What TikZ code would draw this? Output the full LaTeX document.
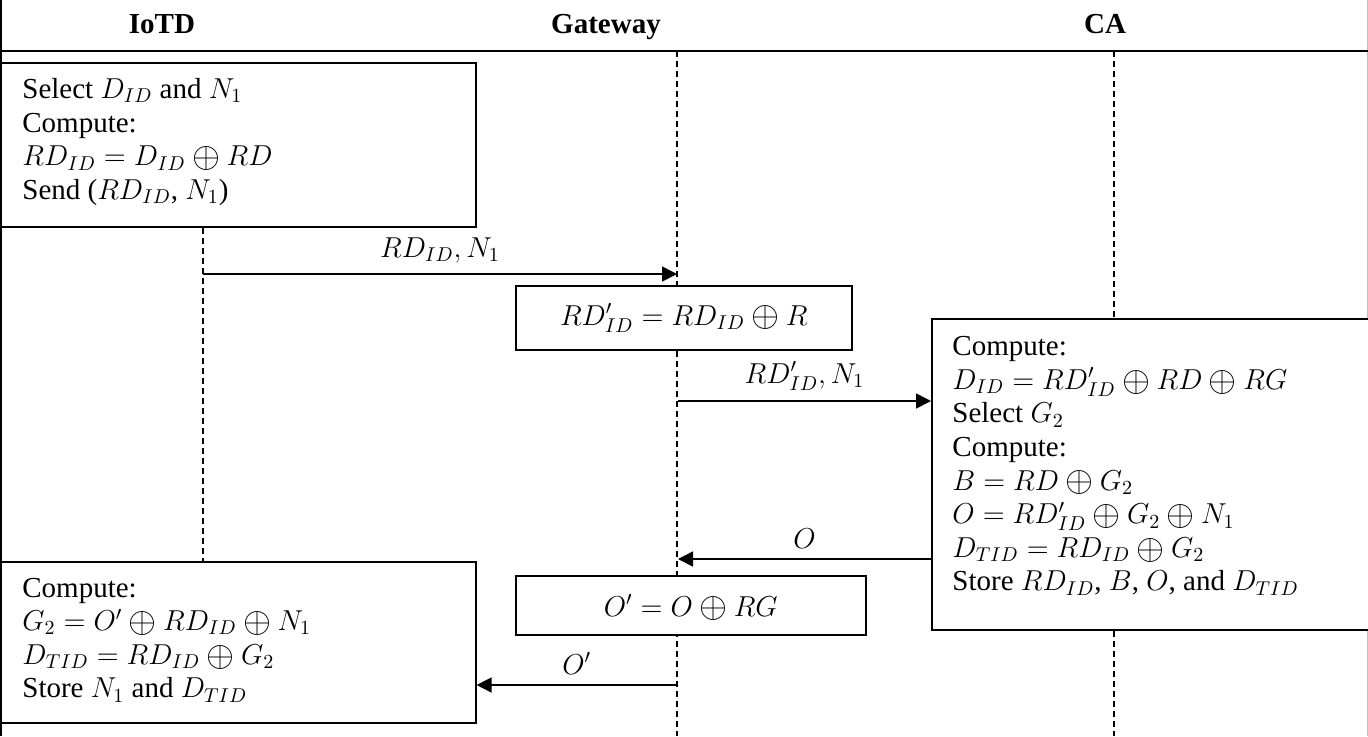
\documentclass[tikz,border=0pt]{standalone}
\usepackage{fontspec}
\usepackage{graphicx}
\setmainfont{Liberation Serif}
\usetikzlibrary{arrows.meta,calc}
\newcommand{\xr}{\mathbin{\smash{\vcenter{\hbox{\scalebox{1.25}{$\oplus$}}}}}}
\begin{document}
\begin{tikzpicture}[x=0.5pt,y=-0.5pt,
  box/.style={draw, line width=0.8pt, fill=white, inner sep=0pt},
  bigfont/.style={font=\fontsize{14.5}{16.8}\selectfont},
  txt/.style={bigfont, align=left, inner sep=0pt},
  hdr/.style={font=\fontsize{14.5}{17}\selectfont\bfseries, inner sep=0pt, anchor=base},
  life/.style={dash pattern=on 3pt off 2pt, line width=0.6pt},
  msg/.style={line width=0.8pt, -{Triangle[length=7.5pt,width=7.5pt]}},
  lbl/.style={bigfont, inner sep=0pt, above=5pt}
]
\useasboundingbox (0,0) rectangle (1368,736);

% frame and header
\draw[line width=0.8pt] (1,0) -- (1,736);
\draw[black!25, line width=0.5pt] (1367,0) -- (1367,736);
\draw[line width=1.2pt] (0,51) -- (1368,51);
\node[hdr] (hI) at (162,33) {IoTD};
\node[hdr] (hG) at (606,33) {Gateway};
\node[hdr] (hC) at (1105,33) {CA};

% lifeline coordinates
\coordinate (xI) at (203,0);
\coordinate (gtop) at (677,51);
\coordinate (gbot) at (677,736);
\coordinate (ctop) at (1114,51);
\coordinate (cbot) at (1114,736);

% gateway lifeline (behind boxes)
\draw[life] (gtop) -- (gbot);

% boxes
\node[box, anchor=north west, minimum width=237.5pt, minimum height=82pt] (b1) at (0,62) {};
\node[txt, anchor=west] (t1) at (22,142) {Select $D_{ID}$ and $N_1$\\
Compute:\\
$RD_{ID} = D_{ID}\xr RD$\\
Send ($RD_{ID}$, $N_1$)};

\node[box, bigfont, anchor=north west, minimum width=168pt, minimum height=32pt] (b2) at (515,285) {$RD'_{ID} = RD_{ID}\xr R$};

\node[box, anchor=north west, minimum width=218.5pt, minimum height=155.5pt] (ca) at (931,318) {};
\node[txt, anchor=west] (tca) at (952,466) {Compute:\\
$D_{ID} = RD'_{ID}\xr RD\xr RG$\\
Select $G_2$\\
Compute:\\
$B = RD\xr G_2$\\
$O = RD'_{ID}\xr G_2\xr N_1$\\
$D_{TID} = RD_{ID}\xr G_2$\\
Store $RD_{ID}$, $B$, $O$, and $D_{TID}$};

\node[box, bigfont, anchor=north west, minimum width=175pt, minimum height=29.5pt] (b3) at (515,575) {$O' = O\xr RG$};

\node[box, anchor=north west, minimum width=237.5pt, minimum height=80.5pt] (b4) at (0,561) {};
\node[txt, anchor=west] (t4) at (22,640) {Compute:\\
$G_2 = O'\xr RD_{ID}\xr N_1$\\
$D_{TID} = RD_{ID}\xr G_2$\\
Store $N_1$ and $D_{TID}$};

% other lifelines
\draw[life] (b1.south -| xI) -- (b4.north -| xI);
\draw[life] (ctop) -- (ca.north -| ctop);
\draw[life] (ca.south -| cbot) -- (cbot);

% messages
\coordinate (a1s) at (203,274);
\coordinate (a1e) at (677,274);
\draw[msg] (a1s) -- node[lbl] {$RD_{ID},N_1$} (a1e);

\coordinate (a2s) at (678,401);
\draw[msg] (a2s) -- node[lbl] {$RD'_{ID},N_1$} (a2s -| ca.west);

\coordinate (a3e) at (678,559);
\draw[msg] (ca.west |- a3e) -- node[lbl] {$O$} (a3e);

\coordinate (a4s) at (677,685);
\draw[msg] (a4s) -- node[lbl] {$O'$} (a4s -| b4.east);
\end{tikzpicture}
\end{document}
